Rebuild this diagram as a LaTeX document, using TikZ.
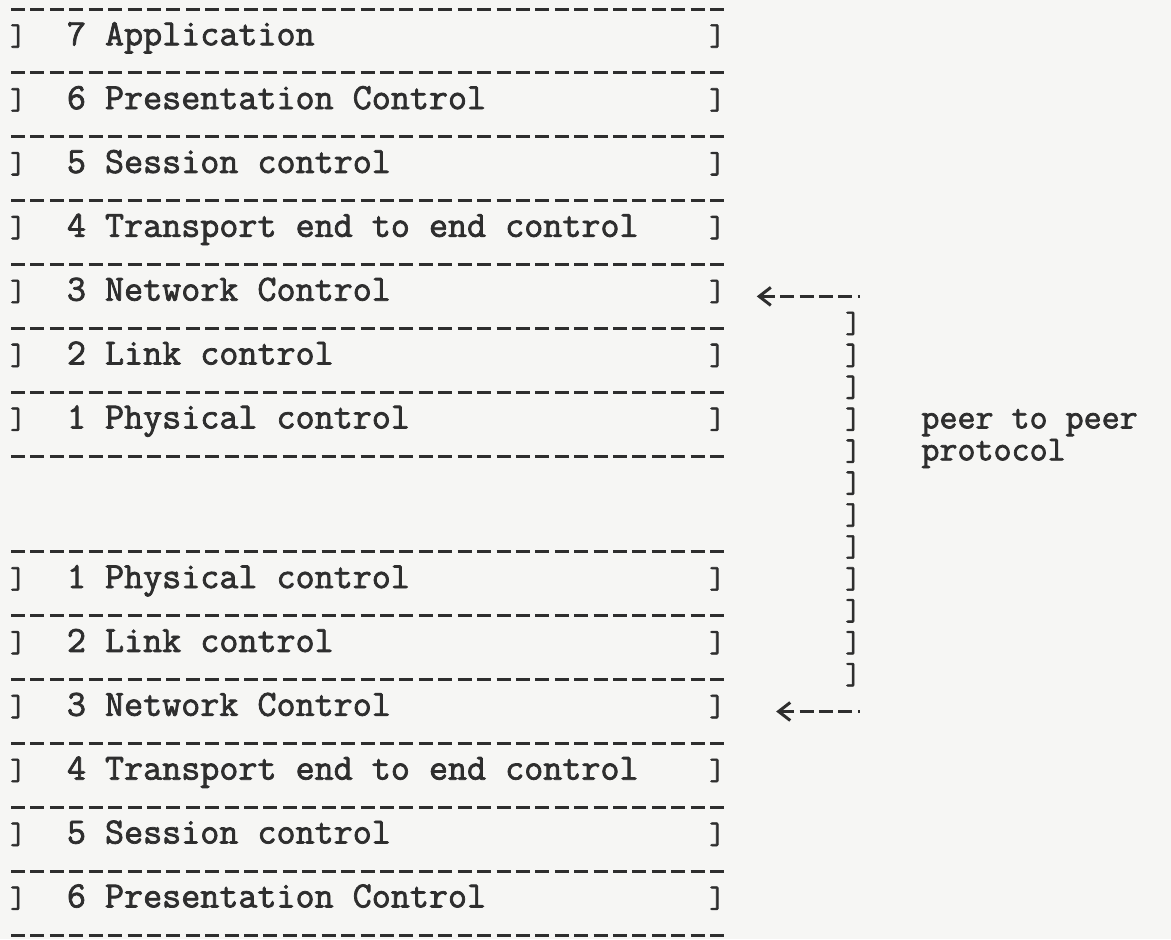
\documentclass[tikz,border=0pt]{standalone}
\usepackage{fontspec}
\newfontfamily\typefont{Latin Modern Mono}[FakeBold=2]
\usetikzlibrary{arrows.meta}
\definecolor{ink}{HTML}{2E2E2E}
\definecolor{paper}{HTML}{F6F6F4}

\begin{document}
\begin{tikzpicture}[x=9.71pt, y=-15.965pt,
    typed/.style={inner sep=0pt, anchor=mid west, text=ink, font=\typefont\fontsize{18.5pt}{16pt}\selectfont},
    brk/.style={inner sep=0pt, anchor=mid, text=ink, font=\typefont\fontsize{15pt}{15pt}\selectfont},
    dashrule/.style={ink, line width=1.5pt, dash pattern=on 7pt off 2.71pt},
    peerarr/.style={dashrule, {Straight Barb[length=5.8pt, width=9pt, line width=1.5pt, sep=3.3pt]}-},
]
  \fill[paper] (-0.927,-0.282) rectangle (59.37,29.13);
  \useasboundingbox (-0.927,-0.282) rectangle (59.37,29.13);

  % upper stack, layer 7 down to 1
  \foreach \ln/\lbl [count=\i] in {1/7 Application, 3/6 Presentation Control,
      5/5 Session control, 7/4 Transport end to end control, 9/3 Network Control,
      11/2 Link control, 13/1 Physical control} {
    \node[brk] (upL\i) at (0,\ln) {]};
    \node[typed] (upT\i) at (2.5,\ln) {\lbl};
    \node[brk] (upR\i) at (36,\ln) {]};
  }
  \foreach \ln in {0,2,...,14}
    \draw[dashrule] (-0.36,\ln) -- (36.36,\ln);

  % lower stack, layer 1 up to 6
  \foreach \ln/\lbl [count=\i] in {18/1 Physical control, 20/2 Link control,
      22/3 Network Control, 24/4 Transport end to end control,
      26/5 Session control, 28/6 Presentation Control} {
    \node[brk] (loL\i) at (0,\ln) {]};
    \node[typed] (loT\i) at (2.5,\ln) {\lbl};
    \node[brk] (loR\i) at (36,\ln) {]};
  }
  \foreach \ln in {17,19,...,29}
    \draw[dashrule] (-0.36,\ln) -- (36.36,\ln);

  % bracket column between the two network layers
  \foreach \ln in {10,...,21}
    \node[brk] (br\ln) at (43,\ln) {]};

  \coordinate (upTip) at (37.7,9);
  \coordinate (upEnd) at (43.36,9);
  \coordinate (loTip) at (38.7,22);
  \coordinate (loEnd) at (43.36,22);
  \draw[peerarr] (upTip) -- (upEnd);
  \draw[peerarr] (loTip) -- (loEnd);

  \node[typed, font=\typefont\fontsize{17.5pt}{16pt}\selectfont] (peer) at (46.5,13) {peer to peer};
  \node[typed, font=\typefont\fontsize{17.5pt}{16pt}\selectfont] (proto) at (46.5,14) {protocol};
\end{tikzpicture}
\end{document}
